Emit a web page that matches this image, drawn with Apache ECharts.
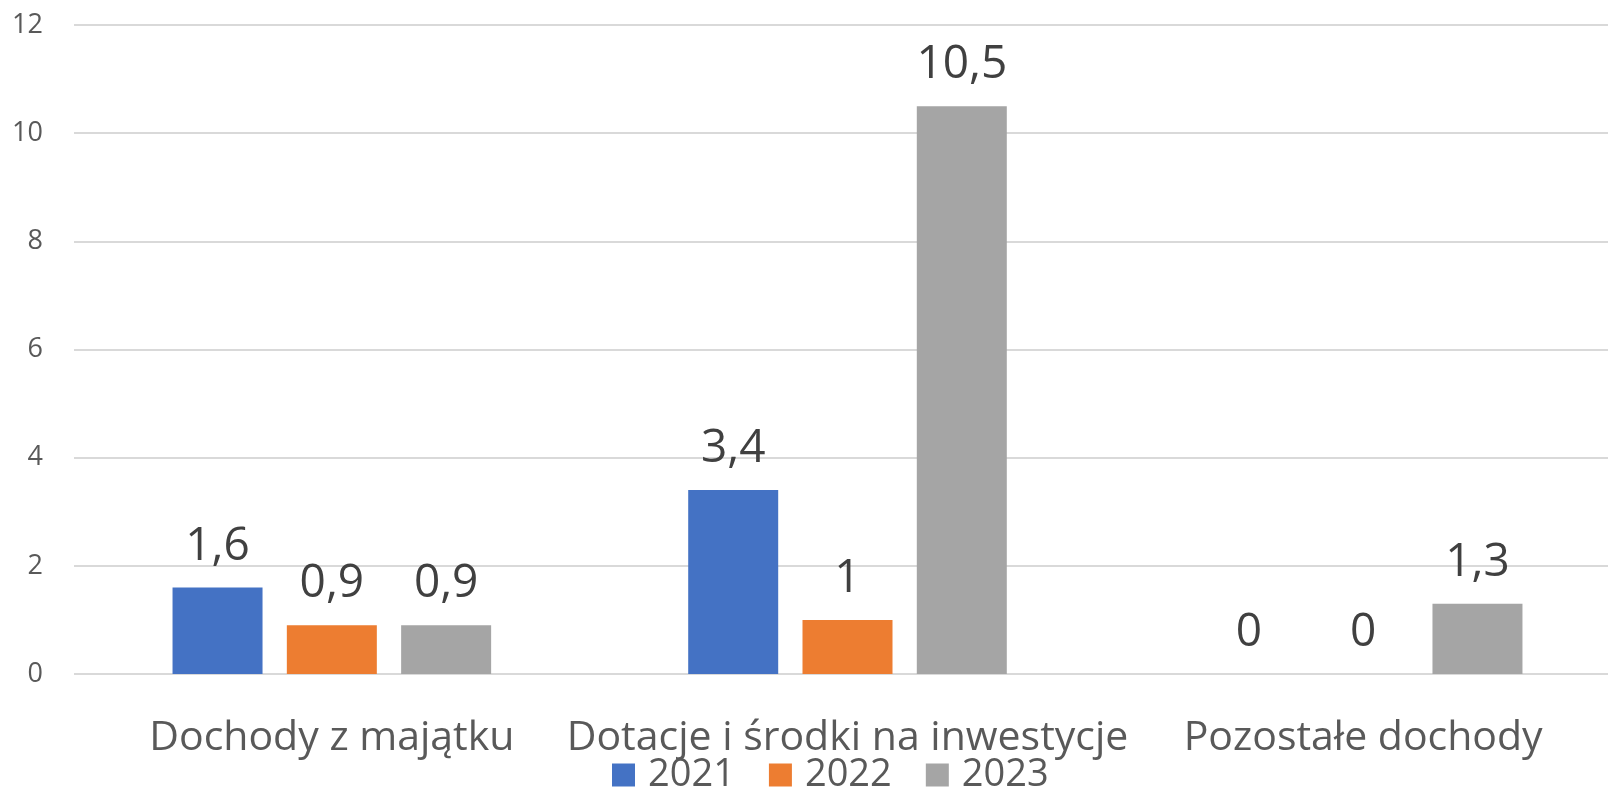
<!DOCTYPE html>
<html>
<head>
<meta charset="utf-8">
<script src="https://cdn.jsdelivr.net/npm/echarts@6/dist/echarts.min.js"></script>
<style>
html, body { margin: 0; padding: 0; background: #fff; }
#chart { width: 1608px; height: 789px; }
</style>
</head>
<body>
<div id="chart"></div>
<script>
// dane
var categories = ['Dochody z majątku', 'Dotacje i środki na inwestycje', 'Pozostałe dochody'];
var years = ['2021', '2022', '2023'];
var values2021 = [1.6, 3.4, 0];
var values2022 = [0.9, 1, 0];
var values2023 = [0.9, 10.5, 1.3];
var colors = ['#4472C4', '#ED7D31', '#A5A5A5'];

var myChart = echarts.init(document.getElementById('chart'));

function makeSeries(name, data, color) {
	return {
		name: name,
		type: 'bar',
		data: data,
		barWidth: 90,
		barGap: '27%',
		itemStyle: { color: color },
		label: {
			show: true,
			position: 'top',
			distance: 18,
			color: '#404040',
			fontSize: 46,
			fontFamily: 'Open Sans',
			formatter: function (p) {
				return String(p.value).replace('.', ',');
			}
		}
	};
}

var option = {
	animation: false,
	color: colors,
	// obszar wykresu wychodzi poza prawą krawędź jak w oryginale
	grid: { left: 74, right: -13, top: 25, bottom: 115, outerBoundsMode: 'none' },
	legend: {
		bottom: -10,
		left: 607,
		icon: 'rect',
		itemWidth: 23,
		itemHeight: 23,
		itemGap: 34,
		textStyle: { color: '#595959', fontSize: 38, fontFamily: 'Open Sans', padding: [0, 0, 0, 8] },
		data: years
	},
	xAxis: {
		type: 'category',
		data: categories,
		axisLine: { show: false },
		axisTick: { show: false },
		axisLabel: {
			color: '#595959',
			fontSize: 41,
			fontFamily: 'Open Sans',
			margin: 44,
			interval: 0
		}
	},
	yAxis: {
		type: 'value',
		min: 0,
		max: 12,
		interval: 2,
		axisLine: { show: false },
		axisTick: { show: false },
		splitLine: { lineStyle: { color: '#D9D9D9', width: 2 } },
		axisLabel: {
			color: '#595959',
			fontSize: 27,
			fontFamily: 'Open Sans',
			margin: 31
		}
	},
	series: [
		makeSeries(years[0], values2021, colors[0]),
		makeSeries(years[1], values2022, colors[1]),
		makeSeries(years[2], values2023, colors[2])
	]
};
myChart.setOption(option);
</script>
</body>
</html>
